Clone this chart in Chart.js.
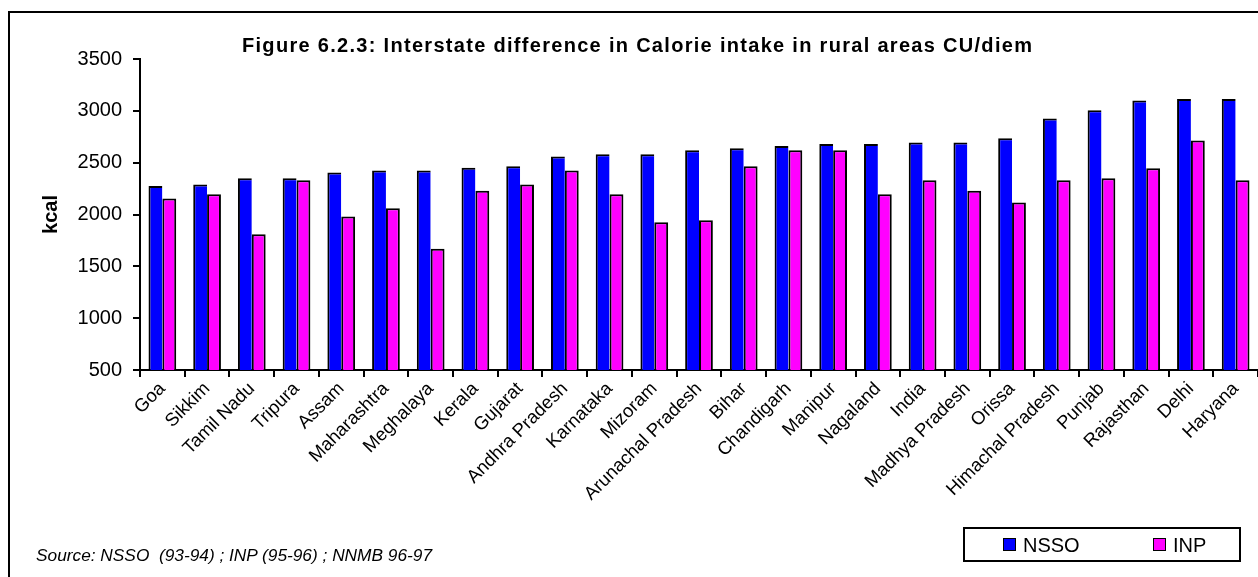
<!DOCTYPE html>
<html>
<head>
<meta charset="utf-8">
<script src="https://cdn.jsdelivr.net/npm/chart.js@4.4.1/dist/chart.umd.min.js"></script>
<style>
  html, body { margin: 0; padding: 0; background: #fff; width: 1258px; height: 577px; overflow: hidden; }
  #wrap { position: relative; width: 1258px; height: 577px; }
  #frame { position: absolute; left: 8px; top: 11px; width: 1400px; height: 800px; border: 2px solid #000; box-sizing: border-box; }
  #c { position: absolute; left: 0; top: 0; }
  #title { position: absolute; left: 242px; top: 34px; white-space: nowrap; font: bold 20px "Liberation Sans", Arial, sans-serif; letter-spacing: 1.3px; color: #000; }
  #source { position: absolute; left: 36px; top: 545px; font: italic 17.3px "Liberation Sans", Arial, sans-serif; color: #000; white-space: pre; }
  #legend { position: absolute; left: 963px; top: 527px; width: 278px; height: 35px; border: 2px solid #000; box-sizing: border-box; font: 20px "Liberation Sans", Arial, sans-serif; }
  .item { position: absolute; top: 4px; line-height: 24px; }
  .sw { display: inline-block; width: 11px; height: 11px; border: 1.5px solid #000; margin-right: 7px; vertical-align: 1px; }
</style>
</head>
<body>
<div id="wrap">
  <div id="frame"></div>
  <canvas id="c" width="1258" height="577"></canvas>
  <div id="title">Figure 6.2.3: Interstate difference in Calorie intake in rural areas CU/diem</div>
  <div id="source">Source: NSSO  (93-94) ; INP (95-96) ; NNMB 96-97</div>
  <div id="legend">
    <div class="item" style="left:38px"><span class="sw" style="background:#0000ff"></span>NSSO</div>
    <div class="item" style="left:188px"><span class="sw" style="background:#ff00ff"></span>INP</div>
  </div>
</div>
<script>
const categories = ["Goa","Sikkim","Tamil Nadu","Tripura","Assam","Maharashtra","Meghalaya","Kerala","Gujarat","Andhra Pradesh","Karnataka","Mizoram","Arunachal Pradesh","Bihar","Chandigarh","Manipur","Nagaland","India","Madhya Pradesh","Orissa","Himachal Pradesh","Punjab","Rajasthan","Delhi","Haryana"];
const nssoValues = [2275,2290,2350,2350,2405,2425,2425,2450,2465,2560,2580,2580,2620,2640,2660,2680,2680,2695,2695,2735,2925,3005,3100,3115,3115];
const inpValues  = [2155,2195,1810,2330,1980,2060,1670,2230,2290,2425,2195,1925,1945,2465,2620,2620,2195,2330,2230,2115,2330,2350,2445,2715,2330];
const yTicks = [500,1000,1500,2000,2500,3000,3500];
const seriesNames = ["NSSO","INP"];

const FONT = "'Liberation Sans', Arial, sans-serif";

new Chart(document.getElementById('c'), {
  type: 'bar',
  data: {
    labels: categories,
    datasets: [
      { label: seriesNames[0], data: nssoValues, backgroundColor: '#0000ff', borderColor: '#000',
        borderWidth: {top: 2, left: 2, right: 0, bottom: 0}, borderSkipped: false },
      { label: seriesNames[1], data: inpValues, backgroundColor: '#ff00ff', borderColor: '#000',
        borderWidth: {top: 2, left: 2, right: 2, bottom: 0}, borderSkipped: false }
    ]
  },
  options: {
    responsive: false,
    animation: false,
    layout: { padding: { top: 59, left: 0, right: 0, bottom: 0 } },
    plugins: { legend: { display: false }, title: { display: false }, tooltip: { enabled: false } },
    datasets: { bar: { categoryPercentage: 0.62, barPercentage: 1.0 } },
    scales: {
      x: {
        offset: true,
        grid: { display: true, drawOnChartArea: false, offset: true, color: '#000', lineWidth: 2, tickLength: 7, tickWidth: 2 },
        border: { display: true, color: '#000', width: 2 },
        ticks: { color: '#000', font: { family: FONT, size: 18.5 }, maxRotation: 45, minRotation: 45, autoSkip: false, padding: 1 },
        afterFit: s => { s.height = 207; }
      },
      y: {
        min: 500, max: 3500,
        afterBuildTicks: s => { s.ticks = yTicks.map(v => ({ value: v })); },
        grid: { display: true, drawOnChartArea: false, color: '#000', lineWidth: 2, tickLength: 7, tickWidth: 2 },
        border: { display: true, color: '#000', width: 2 },
        ticks: { color: '#000', font: { family: FONT, size: 20 }, padding: 11, callback: v => String(v) },
        title: { display: true, text: 'kcal', color: '#000', font: { family: FONT, size: 20, weight: 'bold' }, padding: { top: 39, bottom: 0 } },
        afterFit: s => { s.width = 140; }
      }
    }
  }
});
</script>
</body>
</html>
